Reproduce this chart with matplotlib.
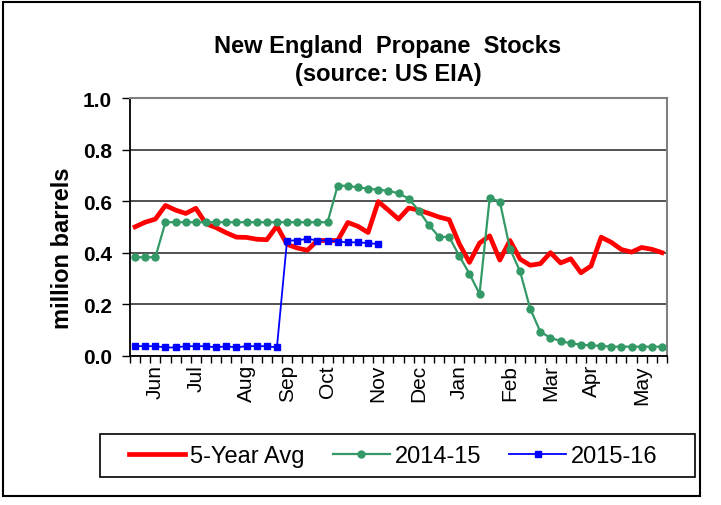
import matplotlib
matplotlib.use("Agg")
import matplotlib.pyplot as plt
from matplotlib.patches import Rectangle
import numpy as np

plt.rcParams['font.family'] = ['Liberation Sans', 'DejaVu Sans']

# weekly values, million barrels (53 weeks, late May -> late May)
avg5 = [0.50, 0.518, 0.53, 0.583, 0.565, 0.552, 0.572, 0.512, 0.497, 0.477,
        0.46, 0.459, 0.452, 0.45, 0.503, 0.432, 0.418, 0.409, 0.447, 0.447,
        0.447, 0.517, 0.502, 0.478, 0.598, 0.565, 0.53, 0.573, 0.565, 0.552,
        0.538, 0.528, 0.434, 0.362, 0.437, 0.465, 0.371, 0.447, 0.375, 0.351,
        0.357, 0.40, 0.36, 0.376, 0.322, 0.348, 0.46, 0.44, 0.412, 0.402,
        0.42, 0.413, 0.40]
y1415 = [0.382, 0.382, 0.382, 0.518, 0.518, 0.518, 0.518, 0.518, 0.518, 0.518,
         0.518, 0.518, 0.518, 0.518, 0.518, 0.518, 0.518, 0.518, 0.518, 0.518,
         0.66, 0.659, 0.653, 0.648, 0.644, 0.64, 0.63, 0.61, 0.563, 0.507,
         0.461, 0.461, 0.387, 0.318, 0.24, 0.612, 0.598, 0.415, 0.327, 0.182,
         0.093, 0.069, 0.057, 0.048, 0.043, 0.04, 0.038, 0.035, 0.035, 0.035,
         0.035, 0.035, 0.035]
y1516 = [0.037, 0.037, 0.037, 0.032, 0.032, 0.037, 0.037, 0.037, 0.032, 0.037,
         0.032, 0.037, 0.037, 0.037, 0.032, 0.447, 0.447, 0.454, 0.447, 0.447,
         0.443, 0.44, 0.44, 0.437, 0.433]

month_labels = ['Jun', 'Jul', 'Aug', 'Sep', 'Oct', 'Nov', 'Dec', 'Jan', 'Feb',
                'Mar', 'Apr', 'May']
month_weeks = [2, 6, 11, 15, 19, 24, 28, 32, 37, 41, 45, 50]

fig = plt.figure(figsize=(7.21, 5.06), dpi=100)
ax = fig.add_axes([130/721, 149.3/506, 537/721, 257.7/506])

x_avg = np.arange(len(avg5))
x_1415 = np.arange(len(y1415))
x_1516 = np.arange(len(y1516))

ax.plot(x_avg, avg5, color='#ff0000', lw=3.4, label='5-Year Avg', zorder=3)
ax.plot(x_1415, y1415, color='#339966', lw=1.6, marker='o', ms=5,
        label='2014-15', zorder=4)
ax.plot(x_1516, y1516, color='#0000ff', lw=1.3, marker='s', ms=5,
        label='2015-16', zorder=5)

ax.set_xlim(-0.5, len(avg5) - 0.5)
ax.set_ylim(0, 1.0)
ax.set_yticks(np.arange(0, 1.01, 0.2))
ax.set_yticklabels(['%.1f' % v for v in np.arange(0, 1.01, 0.2)],
                   fontsize=15, fontweight='bold')
ax.yaxis.grid(True, color='#333333', lw=1.2)
ax.set_axisbelow(True)

ax.set_xticks(month_weeks)
ax.set_xticklabels(month_labels, rotation=90, fontsize=15)
ax.set_xticks(np.arange(-0.5, len(avg5)), minor=True)
ax.tick_params(axis='x', which='major', length=0, pad=6)
ax.tick_params(axis='x', which='minor', length=5, width=1, direction='out')
ax.tick_params(axis='y', length=6, width=1, pad=7)

ax.spines['left'].set_linewidth(1.3)
ax.spines['bottom'].set_linewidth(1.3)
ax.spines['top'].set_color('#808080')
ax.spines['right'].set_color('#808080')
ax.spines['top'].set_linewidth(1.5)
ax.spines['right'].set_linewidth(1.5)

ax.set_ylabel('million barrels', fontsize=17, fontweight='bold')
ax.yaxis.set_label_coords(-0.105, 0.42)

fig.text(388/721, 1 - 46/506, 'New England  Propane  Stocks', ha='center',
         va='center', fontsize=17, fontweight='bold')
fig.text(388/721, 1 - 75/506, '(source: US EIA)', ha='center', va='center',
         fontsize=17, fontweight='bold')

leg = fig.legend(loc='center', ncol=3,
                 bbox_to_anchor=(393/721, 1 - 457/506),
                 fontsize=17, frameon=False, borderaxespad=0,
                 handlelength=2.4, handletextpad=0.2, columnspacing=1.2)

fig.patches.append(Rectangle((100/721, 28/506), 595/721, 43/506,
                             transform=fig.transFigure, fill=False,
                             edgecolor='black', lw=1.2))
fig.patches.append(Rectangle((3/721, 9/506), 697/721, 494/506,
                             transform=fig.transFigure, fill=False,
                             edgecolor='black', lw=1.5))

fig.savefig('out.png', dpi=100)
